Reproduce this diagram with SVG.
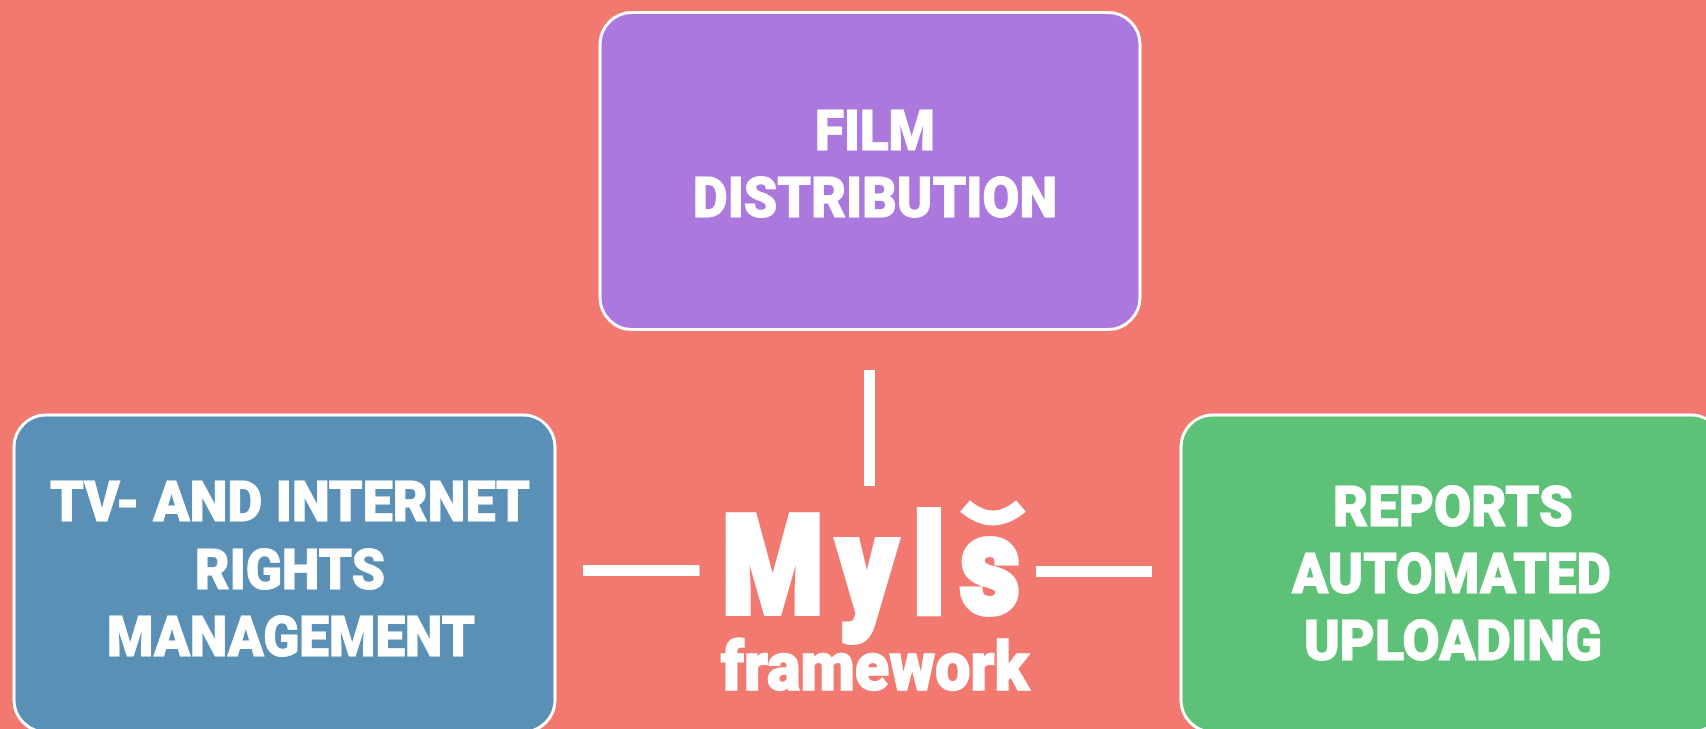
<svg xmlns="http://www.w3.org/2000/svg" width="1706" height="729" viewBox="0 0 1706 729">
<style>
.box{stroke:#fff;stroke-width:3}
.lbl{font-family:Roboto,"Liberation Sans",sans-serif;font-weight:900;font-size:55px;fill:#fff;stroke:#fff;stroke-width:1}
.logo{font-family:Roboto,"Liberation Sans",sans-serif;font-weight:900;fill:#fff;stroke:#fff}
.conn{stroke:#fff;fill:none}
</style>
<rect width="1706" height="729" fill="#F1796F"/>
<g id="connectors">
<line class="conn" x1="869.5" y1="370" x2="869.5" y2="486" stroke-width="11"/>
<line class="conn" x1="583" y1="570.5" x2="699.5" y2="570.5" stroke-width="11"/>
<line class="conn" x1="1036" y1="571.5" x2="1152" y2="571.5" stroke-width="11"/>
</g>
<g id="node-film">
<rect class="box" x="600" y="12.5" width="540" height="317" rx="32" fill="#AB78DE"/>
<text class="lbl" x="815" y="150" textLength="120" lengthAdjust="spacingAndGlyphs">FILM</text>
<text class="lbl" x="693" y="217" textLength="364" lengthAdjust="spacingAndGlyphs">DISTRIBUTION</text>
</g>
<g id="node-rights">
<rect class="box" x="14" y="415" width="541" height="317" rx="32" fill="#5A90B6"/>
<text class="lbl" x="50" y="521" textLength="480" lengthAdjust="spacingAndGlyphs">TV- AND INTERNET</text>
<text class="lbl" x="195" y="588.5" textLength="190" lengthAdjust="spacingAndGlyphs">RIGHTS</text>
<text class="lbl" x="107" y="655.5" textLength="368" lengthAdjust="spacingAndGlyphs">MANAGEMENT</text>
</g>
<g id="node-reports">
<rect class="box" x="1181" y="415" width="542" height="317" rx="32" fill="#5EC178"/>
<text class="lbl" x="1333" y="525.5" textLength="240" lengthAdjust="spacingAndGlyphs">REPORTS</text>
<text class="lbl" x="1292" y="592.5" textLength="319" lengthAdjust="spacingAndGlyphs">AUTOMATED</text>
<text class="lbl" x="1304" y="659.5" textLength="298" lengthAdjust="spacingAndGlyphs">UPLOADING</text>
</g>
<g id="node-logo">
<text class="logo" transform="translate(722 613) scale(.845 1)" font-size="137" stroke-width="6" x="0 136 226 282">Myls</text>
<path d="M965 506Q993 530 1021 506" stroke="#fff" stroke-width="15" fill="none"/>
<text class="logo" x="721" y="690" font-size="68" stroke-width="1.5" textLength="308" lengthAdjust="spacingAndGlyphs">framework</text>
</g>
</svg>
